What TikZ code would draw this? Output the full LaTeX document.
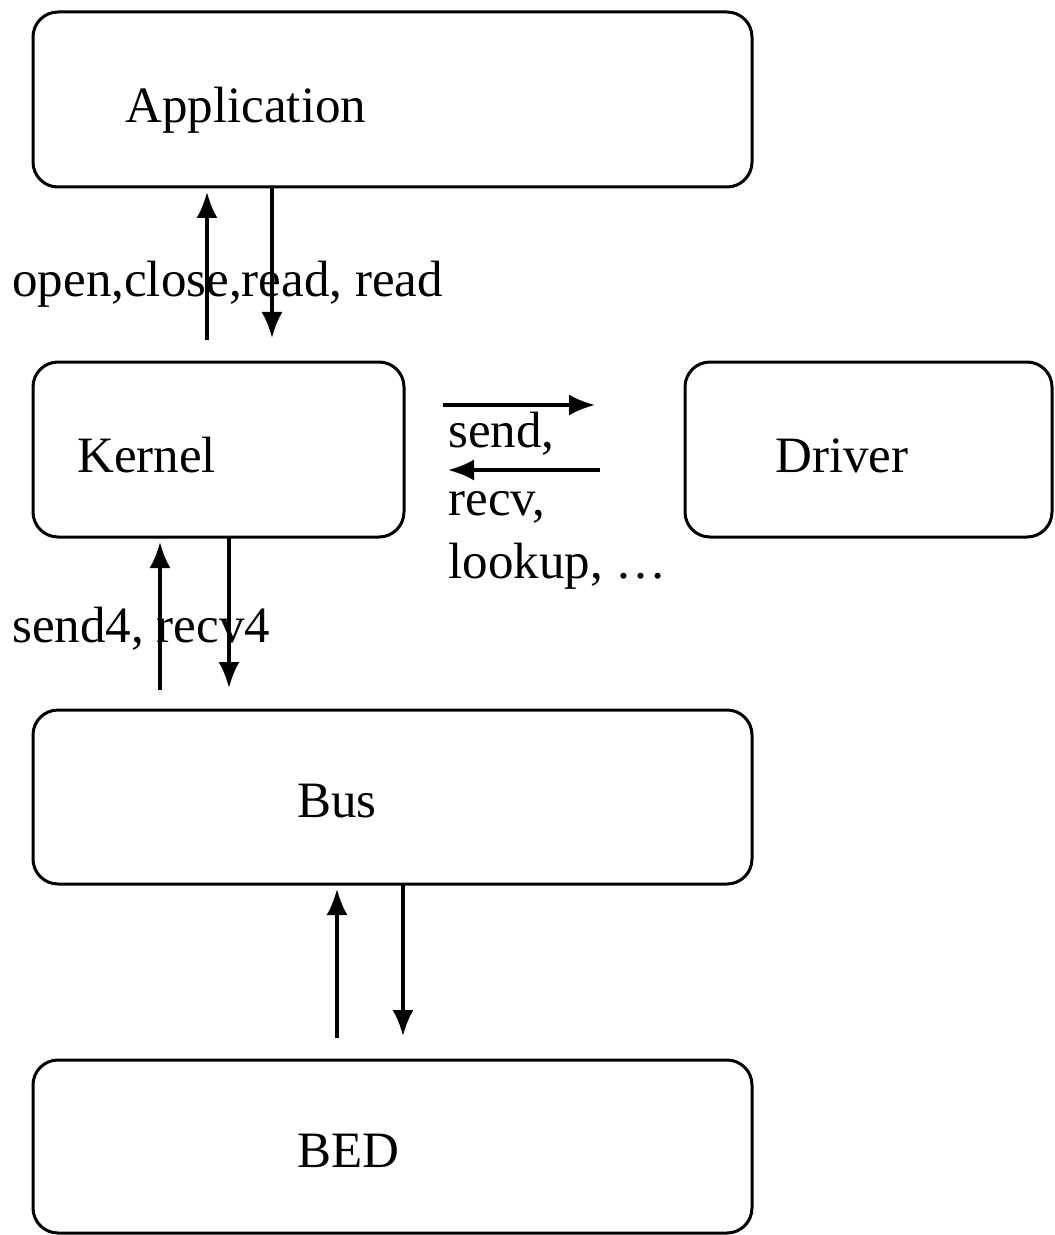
\documentclass[tikz,border=0pt]{standalone}
\usepackage{fontspec}
\setmainfont{Liberation Serif}
\usetikzlibrary{arrows.meta}
\begin{document}
\begin{tikzpicture}[x=0.5pt,y=-0.5pt,
  block/.style={draw,line width=1.5pt,rounded corners=12.5pt},
  lbl/.style={anchor=base west,inner sep=0pt,font=\fontsize{25.5}{33}\selectfont},
  link/.style={line width=1.6pt,-{Latex[length=13pt,width=10.5pt]}}]
\useasboundingbox (0,0) rectangle (1054,1235);
% boxes
\draw[block] (33,12) rectangle (752,187);
\draw[block] (33,362) rectangle (404,537);
\draw[block] (685,362) rectangle (1052,537);
\draw[block] (33,710) rectangle (752,884);
\draw[block] (33,1060) rectangle (752,1233);
% box names
\node[lbl] (app) at (125,123) {Application};
\node[lbl] (ker) at (77,472) {Kernel};
\node[lbl] (drv) at (775,472) {Driver};
\node[lbl] (bus) at (297,817) {Bus};
\node[lbl] (bed) at (297,1167) {BED};
% call labels
\node[lbl] (l1) at (12,297) {open,close,read, read};
\node[lbl] (l2) at (12,642) {send4, recv4};
\node[lbl] (l3a) at (448,447) {send,};
\node[lbl] (l3b) at (448,515) {recv,};
\node[lbl] (l3c) at (448,578) {lookup, \dots};
% connector end points
\coordinate (a1) at (207,340); \coordinate (a1t) at (207,192);
\coordinate (a2) at (272,187); \coordinate (a2t) at (272,338);
\coordinate (k1) at (160,690); \coordinate (k1t) at (160,542);
\coordinate (k2) at (229,537); \coordinate (k2t) at (229,688);
\coordinate (b1) at (337,1038); \coordinate (b1t) at (337,889);
\coordinate (b2) at (403,884); \coordinate (b2t) at (403,1036);
\coordinate (d1) at (443,405); \coordinate (d1t) at (595,405);
\coordinate (d2) at (600,470); \coordinate (d2t) at (448,470);
% connectors
\draw[link] (a1) -- (a1t);
\draw[link] (a2) -- (a2t);
\draw[link] (k1) -- (k1t);
\draw[link] (k2) -- (k2t);
\draw[link] (b1) -- (b1t);
\draw[link] (b2) -- (b2t);
\draw[link] (d1) -- (d1t);
\draw[link] (d2) -- (d2t);
\end{tikzpicture}
\end{document}
